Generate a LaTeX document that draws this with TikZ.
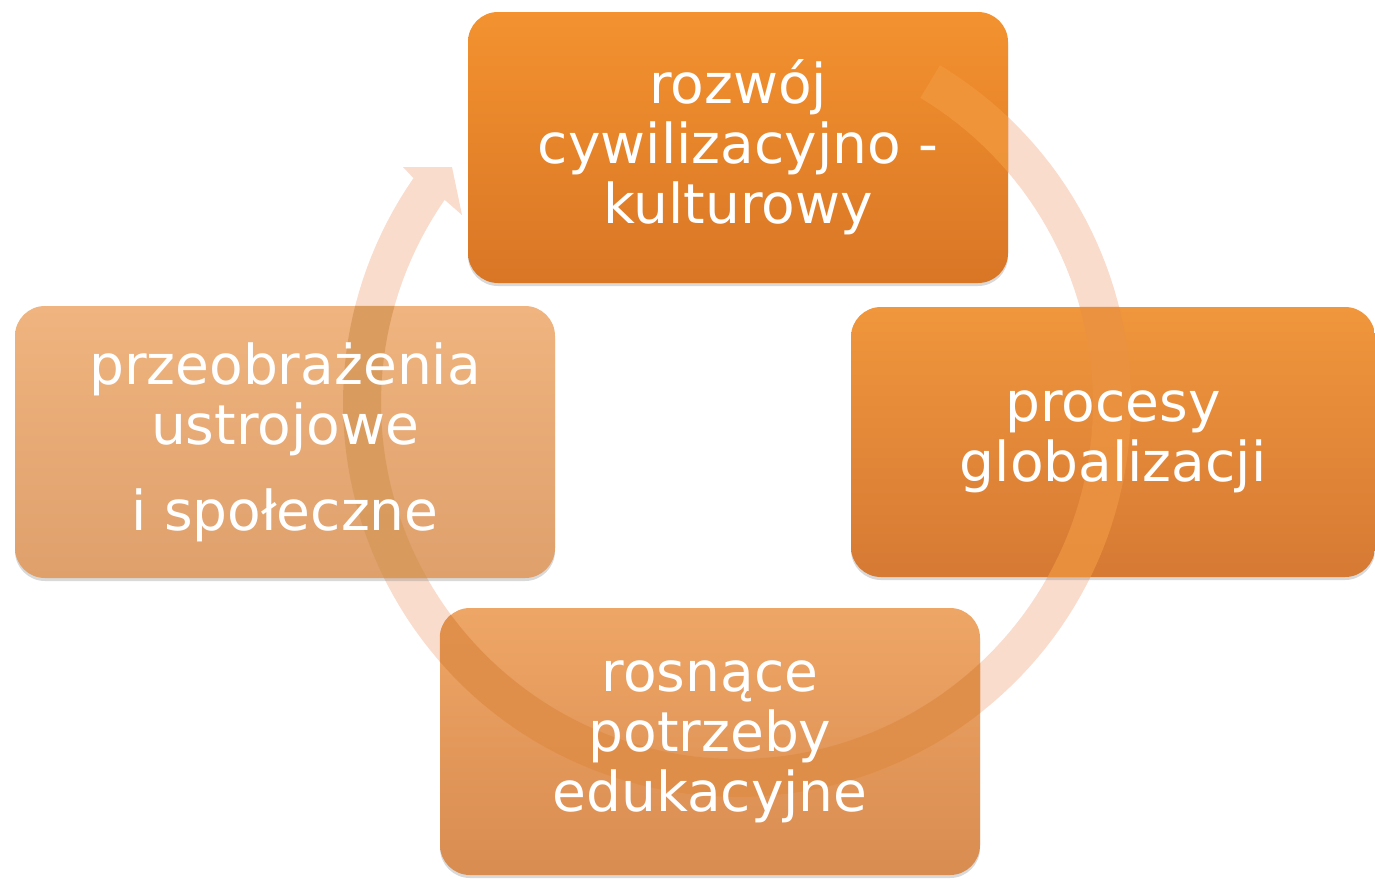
\documentclass[tikz,border=0pt]{standalone}
\usepackage{fontspec}
\setmainfont{DejaVu Sans}
\usetikzlibrary{shadows}
\definecolor{ringc}{HTML}{FADCCD}
\definecolor{topA}{HTML}{F3922F}
\definecolor{topB}{HTML}{D97626}
\definecolor{rgtA}{HTML}{F0963C}
\definecolor{rgtB}{HTML}{D67A34}
\definecolor{botA}{HTML}{EEA666}
\definecolor{botB}{HTML}{D98C50}
\definecolor{lftA}{HTML}{EFB47F}
\definecolor{lftB}{HTML}{DFA06C}
\definecolor{ovtop}{HTML}{F0963A}
\definecolor{ovrgt}{HTML}{EA9240}
\definecolor{ovbot}{HTML}{DF8E48}
\definecolor{ovlft}{HTML}{D99A5C}
\tikzset{
  box/.style={rounded corners=30pt, inner sep=0pt,
    drop shadow={shadow xshift=0pt, shadow yshift=-3pt, opacity=0.3, fill=gray}},
  txt/.style={text=white, align=center, inner sep=0pt,
    font=\fontsize{55}{60}\selectfont},
}
\def\ringpath{plot[domain=-59:214.8, samples=150] ({737+394*cos(\x)},{403+394*sin(\x)})
  -- (403,167) -- (452,167) -- (462,215)
  -- plot[domain=214.8:-59, samples=150] ({737+356*cos(\x)},{403+356*sin(\x)}) -- cycle}
\begin{document}
\begin{tikzpicture}[x=1pt,y=-1pt]
\useasboundingbox (0,0) rectangle (1375,878);
% ring behind
\fill[ringc] \ringpath;
% boxes
\node[box, minimum width=540pt, minimum height=271pt, top color=topA, bottom color=topB] (top) at (738,147.5) {};
\node[box, minimum width=524pt, minimum height=270pt, top color=rgtA, bottom color=rgtB] (rgt) at (1113,442) {};
\node[box, minimum width=540pt, minimum height=267pt, top color=botA, bottom color=botB] (bot) at (710,741.5) {};
\node[box, minimum width=540pt, minimum height=272pt, top color=lftA, bottom color=lftB] (lft) at (285,442) {};
% ring seen through boxes
\foreach \b/\c in {top/ovtop,rgt/ovrgt,bot/ovbot,lft/ovlft}{
  \begin{scope}
    \clip[rounded corners=30pt] (\b.south west) rectangle (\b.north east);
    \fill[\c, opacity=0.9] \ringpath;
  \end{scope}
}
% texts
\node[txt] (ttop) at (top.center) {rozwój\\cywilizacyjno -\\kulturowy};
\node[txt] (trgt) at (rgt.center) {procesy\\globalizacji};
\node[txt] (tbot) at (bot.center) {rosnące\\potrzeby\\edukacyjne};
\node[txt] (tlft) at (lft.center) {przeobrażenia\\ustrojowe\\[26pt]i społeczne};
\end{tikzpicture}
\end{document}
